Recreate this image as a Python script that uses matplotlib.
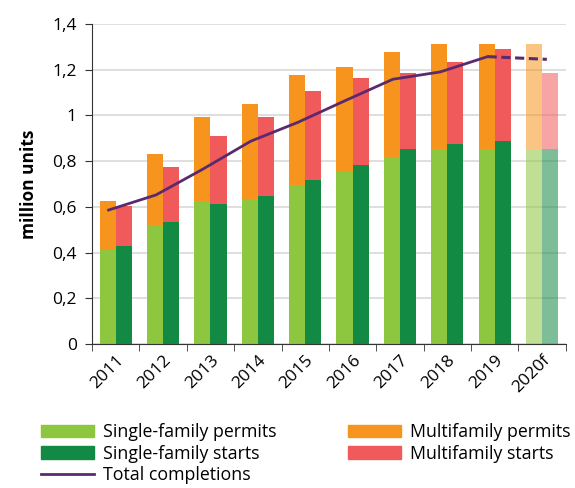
import matplotlib
matplotlib.use("Agg")
import matplotlib.pyplot as plt
import numpy as np
from matplotlib.patches import Patch
from matplotlib.lines import Line2D

plt.rcParams['font.family'] = ['Open Sans', 'DejaVu Sans']

years = ["2011", "2012", "2013", "2014", "2015", "2016", "2017", "2018", "2019", "2020f"]
sf_permits = [0.41, 0.52, 0.626, 0.635, 0.696, 0.754, 0.818, 0.853, 0.853, 0.853]
mf_permits_total = [0.626, 0.83, 0.993, 1.05, 1.177, 1.212, 1.278, 1.313, 1.313, 1.313]
sf_starts = [0.43, 0.535, 0.614, 0.648, 0.718, 0.783, 0.853, 0.875, 0.888, 0.853]
mf_starts_total = [0.604, 0.775, 0.91, 0.993, 1.107, 1.164, 1.186, 1.234, 1.291, 1.186]
completions = [0.586, 0.652, 0.766, 0.887, 0.97, 1.065, 1.158, 1.19, 1.257, 1.245]

mf_permits = [t - s for t, s in zip(mf_permits_total, sf_permits)]
mf_starts = [t - s for t, s in zip(mf_starts_total, sf_starts)]

c_sfp = "#8DC63F"
c_sfs = "#138A43"
c_mfp = "#F7941D"
c_mfs = "#F05A5A"
c_line = "#5B2A6E"

fig = plt.figure(figsize=(5.75, 4.88), dpi=100)
ax = fig.add_axes([0.16, 0.295, 0.824, 0.656])

x = np.arange(len(years))
w = 0.34
n = len(years)
for i in range(n):
    a = 0.55 if years[i].endswith("f") else 1.0
    ax.bar(x[i] - w / 2, sf_permits[i], w, color=c_sfp, alpha=a, zorder=2, linewidth=0)
    ax.bar(x[i] - w / 2, mf_permits[i], w, bottom=sf_permits[i], color=c_mfp, alpha=a, zorder=2, linewidth=0)
    ax.bar(x[i] + w / 2, sf_starts[i], w, color=c_sfs, alpha=a, zorder=2, linewidth=0)
    ax.bar(x[i] + w / 2, mf_starts[i], w, bottom=sf_starts[i], color=c_mfs, alpha=a, zorder=2, linewidth=0)

lx = x - 0.15
ax.plot(lx[:-1], completions[:-1], color=c_line, lw=2, zorder=3)
ax.plot([lx[-2], x[-1] + 0.1], completions[-2:], color=c_line, lw=2.2, ls=(0, (3, 1.5)), zorder=3)

ax.set_xlim(-0.5, n - 0.5)
ax.set_ylim(0, 1.4)
yt = [0, 0.2, 0.4, 0.6, 0.8, 1.0, 1.2, 1.4]
ax.set_yticks(yt)
ax.set_yticklabels(["0", "0,2", "0,4", "0,6", "0,8", "1", "1,2", "1,4"], fontsize=12.5)
ax.set_xticks(x)
ax.set_xticklabels(years, rotation=45, ha="right", rotation_mode="anchor", fontsize=12.5)
ax.tick_params(axis="x", length=0, pad=6)
ax.set_xticks(np.arange(-0.5, n, 1), minor=True)
ax.tick_params(axis="x", which="minor", length=5, color="#333333")
ax.tick_params(axis="y", length=5, color="#333333", pad=6)
ax.grid(axis="y", color="#d9d9d9", lw=1.2, zorder=0)
ax.spines["top"].set_visible(False)
ax.spines["right"].set_visible(False)
ax.spines["left"].set_color("#333333")
ax.spines["bottom"].set_color("#333333")
ax.set_ylabel("million units", fontsize=12.5, fontweight="bold", labelpad=10)

handles = [
    Patch(color=c_sfp, label="Single-family permits"),
    Patch(color=c_sfs, label="Single-family starts"),
    Line2D([0], [0], color=c_line, lw=2, label="Total completions"),
    Patch(color=c_mfp, label="Multifamily permits"),
    Patch(color=c_mfs, label="Multifamily starts"),
]
fig.legend(handles=handles, ncol=2, loc="lower left", bbox_to_anchor=(0.043, -0.025),
           frameon=False, fontsize=12.8, handlelength=3.0, handleheight=0.7,
           labelspacing=0.2, columnspacing=4.0, handletextpad=0.5)

fig.savefig("out.png", dpi=100)
